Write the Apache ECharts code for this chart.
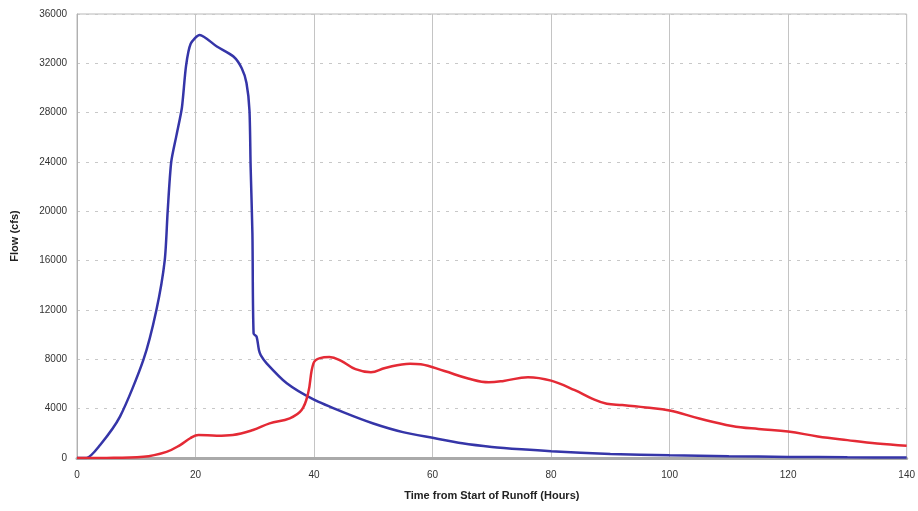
<!DOCTYPE html>
<html>
<head>
<meta charset="utf-8">
<script src="https://cdn.jsdelivr.net/npm/echarts@6/dist/echarts.min.js"></script>
<style>
html,body{margin:0;padding:0;background:#fff;}
#chart{width:918px;height:511px;}
</style>
</head>
<body>
<div id="chart"></div>
<script>
// Data
var xTicks = [0, 20, 40, 60, 80, 100, 120, 140];
var yTicks = [0, 4000, 8000, 12000, 16000, 20000, 24000, 28000, 32000, 36000];

var blueHours = [0, 1.6, 3.9, 7.25, 11.2, 13.4, 14.8, 15.3, 15.9, 16.8, 17.7, 18.4, 19.2, 20.7, 23.6, 26.4, 27.8, 28.6, 29.1, 29.3, 29.6, 29.8, 30.3, 30.7, 31, 32, 35.4, 39.9, 45, 50, 55, 60, 65, 70, 75, 80, 90, 100, 110, 120, 130, 140];
var blueFlow  = [0, 0, 1050, 3350, 7950, 12000, 16000, 20000, 24000, 26200, 28400, 31800, 33600, 34300, 33360, 32550, 31600, 30400, 28200, 23600, 18200, 10100, 9840, 8760, 8350, 7680, 6060, 4750, 3700, 2800, 2100, 1640, 1200, 900, 700, 545, 330, 220, 140, 90, 60, 40];

var redHours = [0, 5, 11.2, 15.1, 17.4, 19.1, 20.5, 23.6, 26.3, 29.7, 32.5, 35.9, 37.9, 39, 39.9, 41, 42.6, 44.5, 47, 49.6, 52, 56.2, 58, 62, 66, 69.5, 72, 76.1, 80, 84, 87, 89.4, 92, 96, 100, 105, 110.5, 115, 120, 125, 130, 135, 140];
var redFlow  = [0, 10, 100, 500, 1050, 1600, 1870, 1810, 1870, 2270, 2810, 3220, 3890, 5250, 7680, 8100, 8180, 7900, 7200, 6950, 7300, 7650, 7600, 7050, 6450, 6140, 6250, 6550, 6270, 5500, 4800, 4400, 4300, 4100, 3850, 3200, 2600, 2350, 2150, 1750, 1450, 1180, 1000];

function pairs(xs, ys) { return xs.map(function (x, i) { return [x, ys[i]]; }); }

var chart = echarts.init(document.getElementById('chart'));
chart.setOption({
  animation: false,
  backgroundColor: '#ffffff',
  grid: { left: 77, right: 11, top: 14, bottom: 53, show: true, borderColor: '#b8b8b8', borderWidth: 1 },
  xAxis: {
    type: 'value', min: xTicks[0], max: xTicks[xTicks.length - 1], interval: 20,
    name: 'Time from Start of Runoff (Hours)', nameLocation: 'middle', nameGap: 32,
    nameTextStyle: { fontFamily: 'Liberation Sans', fontWeight: 'bold', fontSize: 11, color: '#222' },
    axisLine: { show: true, lineStyle: { color: '#aaaaaa', width: 3 } },
    axisTick: { show: false },
    axisLabel: { fontFamily: 'Liberation Sans', fontSize: 10, color: '#333', margin: 12,
      formatter: function (v) { return String(v); } },
    splitLine: { show: true, lineStyle: { color: '#c4c4c4', width: 1, type: 'solid' } }
  },
  yAxis: {
    type: 'value', min: yTicks[0], max: yTicks[yTicks.length - 1], interval: 4000,
    name: 'Flow (cfs)', nameLocation: 'middle', nameGap: 57, nameRotate: 90,
    nameTextStyle: { fontFamily: 'Liberation Sans', fontWeight: 'bold', fontSize: 11, color: '#222' },
    axisLine: { show: true, lineStyle: { color: '#b0b0b0', width: 1 } },
    axisTick: { show: false },
    axisLabel: { fontFamily: 'Liberation Sans', fontSize: 10, color: '#333', margin: 10,
      formatter: function (v) { return String(v); } },
    splitLine: { show: true, lineStyle: { color: '#c8c8c8', width: 1, type: [3, 6] } }
  },
  series: [
    {
      type: 'line', data: pairs(blueHours, blueFlow), showSymbol: false, smooth: 0.25,
      lineStyle: { color: '#3535a8', width: 2.5 }, z: 3
    },
    {
      type: 'line', data: pairs(redHours, redFlow), showSymbol: false, smooth: 0.4,
      lineStyle: { color: '#e42a35', width: 2.5 }, z: 4
    }
  ]
});
</script>
</body>
</html>
